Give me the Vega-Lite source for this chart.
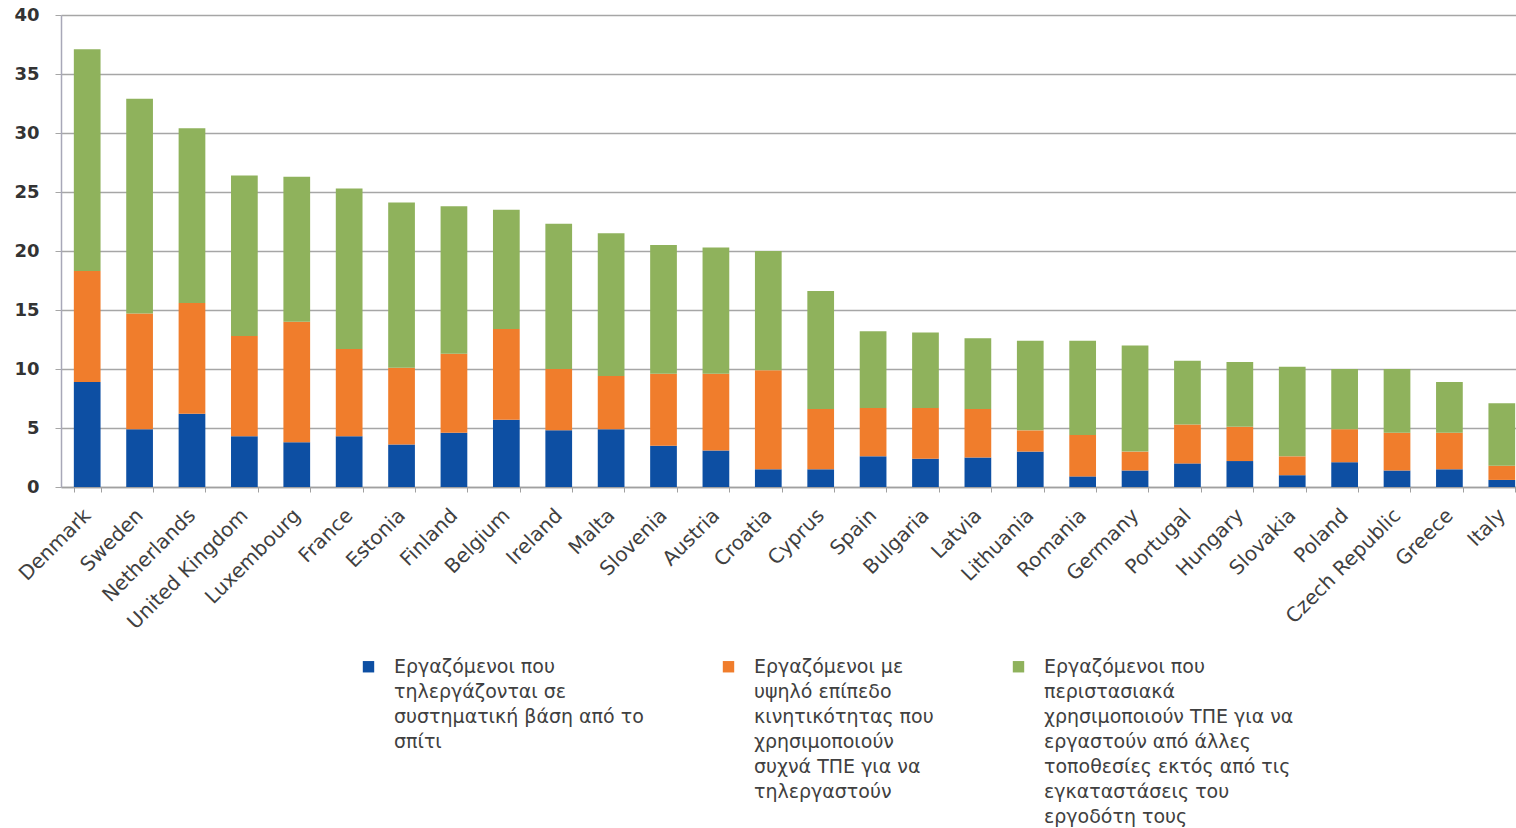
{
  "$schema": "https://vega.github.io/schema/vega-lite/v6.json",
  "width": 1455,
  "height": 472,
  "autosize": {"type": "none"},
  "padding": {"left": 61, "top": 15, "right": 0, "bottom": 341},
  "background": "white",
  "config": {"view": {"stroke": null}, "font": "DejaVu Sans"},
  "data": {"values": [
    {"country": "Denmark", "series": 1, "value": 8.9}, {"country": "Denmark", "series": 2, "value": 9.4}, {"country": "Denmark", "series": 3, "value": 18.8},
    {"country": "Sweden", "series": 1, "value": 4.9}, {"country": "Sweden", "series": 2, "value": 9.8}, {"country": "Sweden", "series": 3, "value": 18.2},
    {"country": "Netherlands", "series": 1, "value": 6.2}, {"country": "Netherlands", "series": 2, "value": 9.4}, {"country": "Netherlands", "series": 3, "value": 14.8},
    {"country": "United Kingdom", "series": 1, "value": 4.3}, {"country": "United Kingdom", "series": 2, "value": 8.5}, {"country": "United Kingdom", "series": 3, "value": 13.6},
    {"country": "Luxembourg", "series": 1, "value": 3.8}, {"country": "Luxembourg", "series": 2, "value": 10.2}, {"country": "Luxembourg", "series": 3, "value": 12.3},
    {"country": "France", "series": 1, "value": 4.3}, {"country": "France", "series": 2, "value": 7.4}, {"country": "France", "series": 3, "value": 13.6},
    {"country": "Estonia", "series": 1, "value": 3.6}, {"country": "Estonia", "series": 2, "value": 6.5}, {"country": "Estonia", "series": 3, "value": 14.0},
    {"country": "Finland", "series": 1, "value": 4.6}, {"country": "Finland", "series": 2, "value": 6.7}, {"country": "Finland", "series": 3, "value": 12.5},
    {"country": "Belgium", "series": 1, "value": 5.7}, {"country": "Belgium", "series": 2, "value": 7.7}, {"country": "Belgium", "series": 3, "value": 10.1},
    {"country": "Ireland", "series": 1, "value": 4.8}, {"country": "Ireland", "series": 2, "value": 5.2}, {"country": "Ireland", "series": 3, "value": 12.3},
    {"country": "Malta", "series": 1, "value": 4.9}, {"country": "Malta", "series": 2, "value": 4.5}, {"country": "Malta", "series": 3, "value": 12.1},
    {"country": "Slovenia", "series": 1, "value": 3.5}, {"country": "Slovenia", "series": 2, "value": 6.1}, {"country": "Slovenia", "series": 3, "value": 10.9},
    {"country": "Austria", "series": 1, "value": 3.1}, {"country": "Austria", "series": 2, "value": 6.5}, {"country": "Austria", "series": 3, "value": 10.7},
    {"country": "Croatia", "series": 1, "value": 1.5}, {"country": "Croatia", "series": 2, "value": 8.4}, {"country": "Croatia", "series": 3, "value": 10.1},
    {"country": "Cyprus", "series": 1, "value": 1.5}, {"country": "Cyprus", "series": 2, "value": 5.1}, {"country": "Cyprus", "series": 3, "value": 10.0},
    {"country": "Spain", "series": 1, "value": 2.6}, {"country": "Spain", "series": 2, "value": 4.1}, {"country": "Spain", "series": 3, "value": 6.5},
    {"country": "Bulgaria", "series": 1, "value": 2.4}, {"country": "Bulgaria", "series": 2, "value": 4.3}, {"country": "Bulgaria", "series": 3, "value": 6.4},
    {"country": "Latvia", "series": 1, "value": 2.5}, {"country": "Latvia", "series": 2, "value": 4.1}, {"country": "Latvia", "series": 3, "value": 6.0},
    {"country": "Lithuania", "series": 1, "value": 3.0}, {"country": "Lithuania", "series": 2, "value": 1.8}, {"country": "Lithuania", "series": 3, "value": 7.6},
    {"country": "Romania", "series": 1, "value": 0.9}, {"country": "Romania", "series": 2, "value": 3.5}, {"country": "Romania", "series": 3, "value": 8.0},
    {"country": "Germany", "series": 1, "value": 1.4}, {"country": "Germany", "series": 2, "value": 1.6}, {"country": "Germany", "series": 3, "value": 9.0},
    {"country": "Portugal", "series": 1, "value": 2.0}, {"country": "Portugal", "series": 2, "value": 3.3}, {"country": "Portugal", "series": 3, "value": 5.4},
    {"country": "Hungary", "series": 1, "value": 2.2}, {"country": "Hungary", "series": 2, "value": 2.9}, {"country": "Hungary", "series": 3, "value": 5.5},
    {"country": "Slovakia", "series": 1, "value": 1.0}, {"country": "Slovakia", "series": 2, "value": 1.6}, {"country": "Slovakia", "series": 3, "value": 7.6},
    {"country": "Poland", "series": 1, "value": 2.1}, {"country": "Poland", "series": 2, "value": 2.8}, {"country": "Poland", "series": 3, "value": 5.1},
    {"country": "Czech Republic", "series": 1, "value": 1.4}, {"country": "Czech Republic", "series": 2, "value": 3.2}, {"country": "Czech Republic", "series": 3, "value": 5.4},
    {"country": "Greece", "series": 1, "value": 1.5}, {"country": "Greece", "series": 2, "value": 3.1}, {"country": "Greece", "series": 3, "value": 4.3},
    {"country": "Italy", "series": 1, "value": 0.6}, {"country": "Italy", "series": 2, "value": 1.2}, {"country": "Italy", "series": 3, "value": 5.3}
  ]},
  "mark": {"type": "bar"},
  "encoding": {
    "x": {
      "field": "country", "type": "nominal",
      "sort": ["Denmark", "Sweden", "Netherlands", "United Kingdom", "Luxembourg", "France", "Estonia", "Finland", "Belgium", "Ireland", "Malta", "Slovenia", "Austria", "Croatia", "Cyprus", "Spain", "Bulgaria", "Latvia", "Lithuania", "Romania", "Germany", "Portugal", "Hungary", "Slovakia", "Poland", "Czech Republic", "Greece", "Italy"],
      "scale": {"paddingInner": 0.49, "paddingOuter": 0.245, "range": [0, 1467]},
      "axis": {
        "title": null, "labelAngle": -45, "labelAlign": "right", "labelBaseline": "middle",
        "labelFontSize": 20, "labelColor": "#404040", "labelPadding": 20, "labelLimit": 300,
        "tickBand": "extent", "tickSize": 5, "tickColor": "#a0a0a0",
        "domainColor": "#a0a0a0", "domainWidth": 1.5, "grid": false
      }
    },
    "y": {
      "field": "value", "type": "quantitative", "stack": "zero",
      "scale": {"domain": [0, 40], "nice": false},
      "axis": {
        "title": null, "values": [0, 5, 10, 15, 20, 25, 30, 35, 40],
        "labelFontSize": 18, "labelFontWeight": "bold", "labelColor": "#333333", "labelPadding": 16,
        "tickSize": 6, "tickColor": "#a6a6a6", "domainColor": "#a8a8b8", "domainWidth": 1.5,
        "grid": true, "gridColor": "#a6a6a6", "gridWidth": 1.5
      }
    },
    "color": {
      "field": "series", "type": "nominal",
      "scale": {"domain": [1, 2, 3], "range": ["#0d4fa3", "#f07d2c", "#8fb25c"]},
      "legend": {
        "title": null, "orient": "none", "legendX": 298, "legendY": 642,
        "direction": "horizontal", "columns": 3, "columnPadding": 75,
        "symbolType": "square", "symbolSize": 130, "symbolStrokeWidth": 0,
        "labelFontSize": 19, "labelColor": "#404040", "labelLimit": 400, "labelOffset": 16,
        "labelBaseline": "top",
        "labelExpr": "datum.label == '1' ? ['Εργαζόμενοι που','τηλεργάζονται σε','συστηματική βάση από το','σπίτι','','',''] : datum.label == '2' ? ['Εργαζόμενοι με','υψηλό επίπεδο','κινητικότητας που','χρησιμοποιούν','συχνά ΤΠΕ για να','τηλεργαστούν',''] : ['Εργαζόμενοι που','περιστασιακά','χρησιμοποιούν ΤΠΕ για να','εργαστούν από άλλες','τοποθεσίες εκτός από τις','εγκαταστάσεις του','εργοδότη τους']",
        "encode": {"labels": {"update": {"lineHeight": {"value": 25}, "dy": {"value": -9}}}}
      }
    },
    "order": {"field": "series", "type": "quantitative", "sort": "ascending"}
  }
}
